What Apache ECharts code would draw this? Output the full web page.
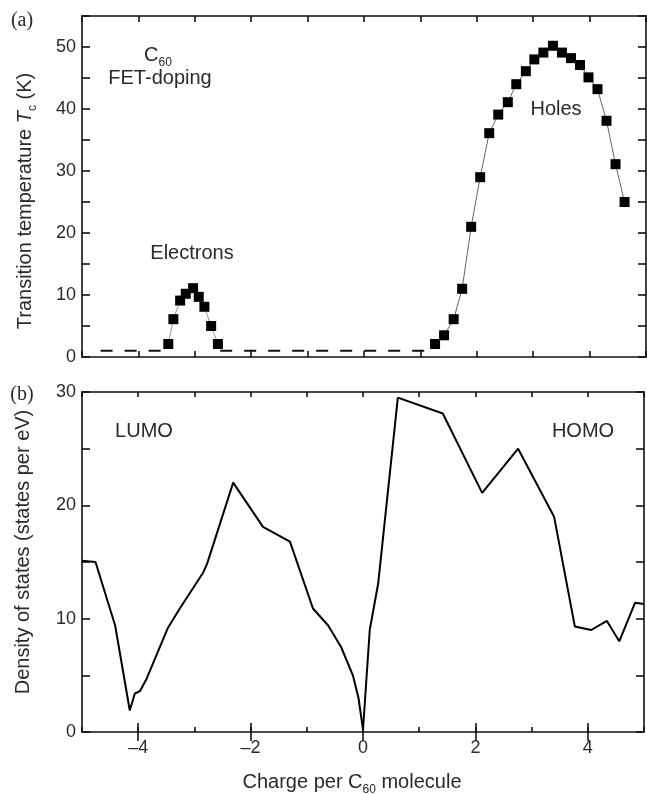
<!DOCTYPE html>
<html><head><meta charset="utf-8">
<script src="https://cdn.jsdelivr.net/npm/echarts@6/dist/echarts.min.js"></script>
<style>html,body{margin:0;padding:0;background:#fff}#c{width:647px;height:794px}</style>
</head><body><div id="c"></div>
<script>
// ---- data ----
var electronCharge = [-3.47, -3.38, -3.26, -3.16, -3.03, -2.93, -2.83, -2.71, -2.59];
var electronTc     = [2.1, 6.1, 9.1, 10.2, 11.1, 9.7, 8.1, 5.0, 2.1];
var holeCharge = [1.26, 1.42, 1.59, 1.74, 1.90, 2.06, 2.22, 2.38, 2.55, 2.70, 2.87, 3.02, 3.18, 3.35, 3.51, 3.67, 3.83, 3.98, 4.14, 4.30, 4.46, 4.62];
var holeTc     = [2.1, 3.5, 6.1, 11.0, 21.0, 29.0, 36.1, 39.1, 41.1, 44.0, 46.1, 48.0, 49.1, 50.2, 49.1, 48.2, 47.1, 45.1, 43.2, 38.1, 31.1, 25.0];
var baselineCharge = [-4.67, -3.55, null, -2.55, 1.12];
var baselineTc = 1.0;
var dosCharge = [-5.0, -4.76, -4.41, -4.15, -4.06, -3.97, -3.85, -3.47, -3.26, -2.84, -2.77, -2.31, -1.78, -1.30, -0.89, -0.62, -0.39, -0.18, -0.08, 0.0, 0.12, 0.27, 0.62, 1.42, 2.12, 2.76, 3.40, 3.77, 4.06, 4.34, 4.56, 4.84, 5.0];
var dosValue  = [15.1, 15.0, 9.4, 1.9, 3.4, 3.6, 4.7, 9.2, 10.9, 14.1, 14.9, 22.0, 18.1, 16.8, 10.9, 9.4, 7.5, 5.0, 3.0, 0.2, 9.0, 13.1, 29.5, 28.1, 21.1, 25.0, 19.0, 9.3, 9.0, 9.8, 8.0, 11.4, 11.3];
var tcTicks = [0, 10, 20, 30, 40, 50];
var dosTicks = [0, 10, 20, 30];
var chargeTicks = [-4, -2, 0, 2, 4];

function pairs(xs, ys) {
  return xs.map(function (x, i) {
    var y = Array.isArray(ys) ? ys[i] : ys;
    return x === null ? [null, null] : [x, y];
  });
}

var FONT = '"Liberation Sans", Arial, sans-serif';
var SERIF = '"Liberation Serif", "DejaVu Serif", serif';
var TXT = '#2a2a2a';
var axLine = { show: true, onZero: false, lineStyle: { color: '#111', width: 1.6 } };
var tickStyle = { color: '#111', width: 1.6 };

function xAx(grid, pos, showLabel, tickLen) {
  return {
    type: 'value', gridIndex: grid, position: pos, min: -5, max: 5, interval: 1,
    axisLine: axLine,
    axisTick: { show: true, inside: true, length: tickLen, lineStyle: tickStyle },
    splitLine: { show: false },
    axisLabel: {
      show: showLabel, margin: 7, color: TXT, fontSize: 18, fontFamily: FONT,
      formatter: function (v) { return chargeTicks.indexOf(Math.round(v)) >= 0 ? String(Math.round(v)).replace('-', '\u2013') : ''; }
    }
  };
}
// overlay axis carrying only the longer, labelled major ticks
function xMajor(grid, pos) {
  return {
    type: 'value', gridIndex: grid, position: pos, min: -5, max: 5, interval: 1,
    axisLine: { show: false },
    axisTick: { show: true, inside: true, length: 9, lineStyle: tickStyle, customValues: chargeTicks },
    axisLabel: { show: false },
    splitLine: { show: false }
  };
}
function yAx(grid, pos, showLabel, max, ticks) {
  return {
    type: 'value', gridIndex: grid, position: pos, min: 0, max: max, interval: 5,
    axisLine: axLine,
    axisTick: { show: true, inside: true, length: 8, lineStyle: tickStyle },
    splitLine: { show: false },
    axisLabel: {
      show: showLabel, margin: 6, color: TXT, fontSize: 18, fontFamily: FONT,
      formatter: function (v) { return ticks.indexOf(v) >= 0 ? String(v) : ''; }
    }
  };
}

var mainTok = { fontSize: 20, fontFamily: FONT, fill: TXT, lineHeight: 28, verticalAlign: 'middle' };
var subTok = { fontSize: 12, fontFamily: FONT, fill: TXT, lineHeight: 10, verticalAlign: 'bottom' };
var itTok = { fontSize: 20, fontFamily: FONT, fontStyle: 'italic', fill: TXT, lineHeight: 28, verticalAlign: 'middle' };
function txt(x, y, text, size, family, rich, rot) {
  var o = {
    type: 'text', x: x, y: y, z: 100,
    style: { text: text, fill: TXT, fontSize: size, fontFamily: family || FONT, align: 'center', verticalAlign: 'middle' }
  };
  if (rich) o.style.rich = rich;
  if (rot) o.rotation = rot;
  return o;
}

var chart = echarts.init(document.getElementById('c'), null, { renderer: 'canvas' });
chart.setOption({
  animation: false,
  backgroundColor: '#fff',
  grid: [
    { left: 82, right: 1, top: 16, height: 341 },
    { left: 82, right: 1, top: 392, height: 340 }
  ],
  xAxis: [
    xAx(0, 'bottom', false, 6),
    xAx(0, 'top', false, 6),
    xAx(1, 'bottom', true, 5),
    xAx(1, 'top', false, 5),
    xMajor(1, 'bottom'),
    xMajor(1, 'top')
  ],
  yAxis: [
    yAx(0, 'left', true, 55, tcTicks),
    yAx(0, 'right', false, 55, tcTicks),
    yAx(1, 'left', true, 30, dosTicks),
    yAx(1, 'right', false, 30, dosTicks)
  ],
  series: [
    {
      type: 'line', xAxisIndex: 0, yAxisIndex: 0, data: pairs(baselineCharge, baselineTc),
      symbol: 'none', connectNulls: false,
      lineStyle: { color: '#111', width: 2, type: [12, 12] }
    },
    {
      type: 'line', xAxisIndex: 0, yAxisIndex: 0, data: pairs(electronCharge, electronTc),
      symbol: 'rect', symbolSize: 10, lineStyle: { color: '#999', width: 1 },
      itemStyle: { color: '#000' }
    },
    {
      type: 'line', xAxisIndex: 0, yAxisIndex: 0, data: pairs(holeCharge, holeTc),
      symbol: 'rect', symbolSize: 10, lineStyle: { color: '#666', width: 1 },
      itemStyle: { color: '#000' }
    },
    {
      type: 'line', xAxisIndex: 2, yAxisIndex: 2, data: pairs(dosCharge, dosValue),
      symbol: 'none', lineStyle: { color: '#000', width: 2 }
    }
  ],
  graphic: [
    txt(22, 21, '(a)', 20, SERIF),
    txt(22, 395, '(b)', 20, SERIF),
    txt(158, 55, '{n|C}{s|60}', 20, FONT, { n: mainTok, s: subTok }),
    txt(160, 78, 'FET-doping', 20),
    txt(192, 253, 'Electrons', 20),
    txt(556, 109, 'Holes', 20),
    txt(144, 431, 'LUMO', 20),
    txt(583, 431, 'HOMO', 20),
    txt(352, 782, '{n|Charge per C}{s|60}{n| molecule}', 20, FONT, { n: mainTok, s: subTok }),
    txt(25, 201, '{n|Transition temperature }{i|T}{s|c}{n| (K)}', 20, FONT, { n: mainTok, i: itTok, s: subTok }, Math.PI / 2),
    txt(23, 552, 'Density of states (states per eV)', 20, FONT, null, Math.PI / 2)
  ]
});
</script></body></html>
